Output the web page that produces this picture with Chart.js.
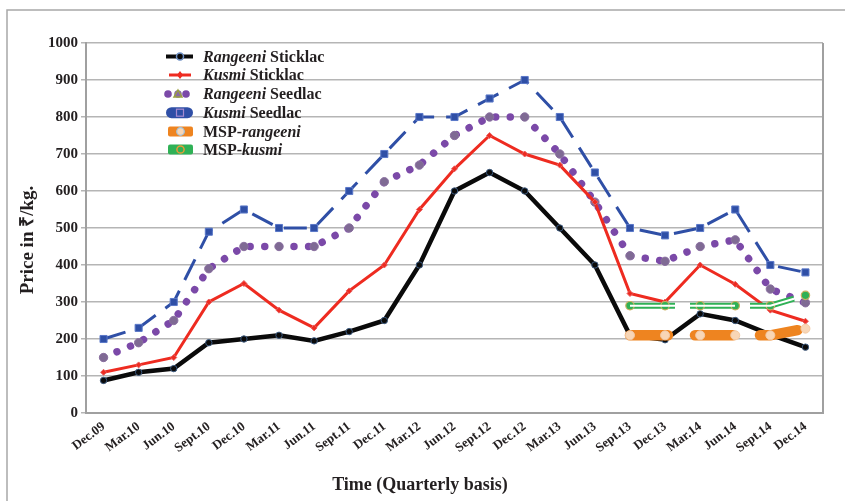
<!DOCTYPE html>
<html>
<head>
<meta charset="utf-8">
<script src="https://cdn.jsdelivr.net/npm/chart.js@4"></script>
<style>
  html, body { margin: 0; padding: 0; background: #fff; overflow: hidden; }
  #wrap { position: relative; width: 845px; height: 501px; }
</style>
</head>
<body>
<div id="wrap"><canvas id="c" width="845" height="501"></canvas></div>
<script>
// Quarterly lac prices (Rs/kg), Dec 2009 - Dec 2014
const categories = ['Dec.09','Mar.10','Jun.10','Sept.10','Dec.10','Mar.11','Jun.11','Sept.11','Dec.11','Mar.12','Jun.12',
                    'Sept.12','Dec.12','Mar.13','Jun.13','Sept.13','Dec.13','Mar.14','Jun.14','Sept.14','Dec.14'];
const rangeeniSticklac = [88,110,120,190,200,210,195,220,250,400,600,650,600,500,400,210,198,268,250,212,178];
const kusmiSticklac    = [110,130,150,300,350,278,230,330,400,550,660,750,700,670,570,323,300,400,348,278,248];
const rangeeniSeedlac  = [150,190,250,390,450,450,450,500,625,670,750,800,800,700,570,425,410,450,468,335,298];
const kusmiSeedlac     = [200,230,300,490,550,500,500,600,700,800,800,850,900,800,650,500,480,500,550,400,380];
const mspRangeeni      = [null,null,null,null,null,null,null,null,null,null,null,null,null,null,null,210,210,210,210,210,228];
const mspKusmi         = [null,null,null,null,null,null,null,null,null,null,null,null,null,null,null,290,290,290,290,290,318];

const yTitle = 'Price in \u20B9/kg.';
const xTitle = 'Time (Quarterly basis)';
const legendRows = [
  [['Rangeeni', true], [' Sticklac', false]],
  [['Kusmi', true], [' Sticklac', false]],
  [['Rangeeni', true], [' Seedlac', false]],
  [['Kusmi', true], [' Seedlac', false]],
  [['MSP-', false], ['rangeeni', true]],
  [['MSP-', false], ['kusmi', true]]
];

const SERIF = '"Liberation Serif", "Times New Roman", serif';
const TXT = '#231f20';
const C = {
  black: '#0a0a0a', red: '#ee2b20', purple: '#7b49a8', blue: '#2f4fa6',
  orange: '#ee8420', peach: '#f8d6b6', green: '#2fb156'
};

// frame, plot box, axis titles and the legend block
const decorPlugin = {
  id: 'decor',
  beforeDatasetsDraw(chart) {
    const { ctx, chartArea: a } = chart;
    ctx.save();
    ctx.strokeStyle = '#a0a0a0';
    ctx.lineWidth = 2;
    ctx.beginPath();
    ctx.moveTo(a.right, a.top);
    ctx.lineTo(a.right, a.bottom);
    ctx.stroke();
    ctx.restore();
  },
  afterDraw(chart) {
    const { ctx } = chart;
    ctx.save();
    // outer frame
    ctx.strokeStyle = '#a8a8a8';
    ctx.lineWidth = 1.5;
    ctx.beginPath();
    ctx.moveTo(7, 501);
    ctx.lineTo(7, 10);
    ctx.lineTo(845, 10);
    ctx.stroke();

    // axis titles
    ctx.fillStyle = TXT;
    ctx.textBaseline = 'middle';
    ctx.textAlign = 'center';
    ctx.font = 'bold 18px ' + SERIF;
    ctx.fillText(xTitle, 420, 485);
    ctx.save();
    ctx.translate(28, 240);
    ctx.rotate(-Math.PI / 2);
    ctx.font = 'bold 19px ' + SERIF;
    ctx.fillText(yTitle, 0, 0);
    ctx.restore();

    // legend
    const rowY = [56.5, 75, 94, 112.7, 131.5, 149.5];
    rowY.forEach((y, i) => {
      drawSample(ctx, i, y);
      let x = 203;
      ctx.textAlign = 'left';
      legendRows[i].forEach(([t, it]) => {
        ctx.font = (it ? 'italic bold 16px ' : 'bold 16px ') + SERIF;
        ctx.fillText(t, x, y + 1);
        x += ctx.measureText(t).width;
      });
    });
    ctx.restore();
  }
};

function roundBar(ctx, x0, x1, y, h, r, color) {
  ctx.fillStyle = color;
  ctx.beginPath();
  ctx.roundRect(x0, y - h / 2, x1 - x0, h, r);
  ctx.fill();
}

function drawSample(ctx, i, y) {
  ctx.save();
  if (i === 0) {
    ctx.strokeStyle = C.black; ctx.lineWidth = 4;
    ctx.beginPath(); ctx.moveTo(166, y); ctx.lineTo(193, y); ctx.stroke();
    ctx.fillStyle = C.black; ctx.strokeStyle = '#6d8fc4'; ctx.lineWidth = 1.5;
    ctx.beginPath(); ctx.arc(180, y, 3.5, 0, Math.PI * 2); ctx.fill(); ctx.stroke();
  } else if (i === 1) {
    ctx.strokeStyle = C.red; ctx.lineWidth = 3;
    ctx.beginPath(); ctx.moveTo(169, y); ctx.lineTo(191, y); ctx.stroke();
    ctx.fillStyle = C.red;
    ctx.beginPath(); ctx.moveTo(180, y - 4); ctx.lineTo(183, y); ctx.lineTo(180, y + 4); ctx.lineTo(177, y); ctx.fill();
  } else if (i === 2) {
    ctx.fillStyle = C.purple;
    [168, 186].forEach(cx => { ctx.beginPath(); ctx.arc(cx, y, 3.8, 0, Math.PI * 2); ctx.fill(); });
    ctx.fillStyle = '#8a6aa8';
    ctx.beginPath(); ctx.arc(178, y, 3.8, 0, Math.PI * 2); ctx.fill();
    ctx.strokeStyle = '#9aa040'; ctx.lineWidth = 1.5;
    ctx.beginPath(); ctx.moveTo(178, y - 4); ctx.lineTo(182, y + 3); ctx.lineTo(174, y + 3); ctx.closePath(); ctx.stroke();
  } else if (i === 3) {
    roundBar(ctx, 166, 193, y, 11, 5.5, C.blue);
    ctx.strokeStyle = '#a58ad0'; ctx.lineWidth = 1.2;
    ctx.strokeRect(176.5, y - 3.5, 7, 7);
  } else if (i === 4) {
    roundBar(ctx, 168, 193, y, 10, 2, C.orange);
    ctx.fillStyle = C.peach; ctx.strokeStyle = '#9ec4e0'; ctx.lineWidth = 1.2;
    ctx.beginPath(); ctx.arc(180.5, y, 3.8, 0, Math.PI * 2); ctx.fill(); ctx.stroke();
  } else {
    roundBar(ctx, 168, 193, y, 10, 2, C.green);
    ctx.strokeStyle = '#e89a3a'; ctx.lineWidth = 1.5;
    ctx.beginPath(); ctx.arc(180.5, y, 3.6, 0, Math.PI * 2); ctx.stroke();
  }
  ctx.restore();
}

const ds = [
  {
    label: 'Rangeeni Sticklac', data: rangeeniSticklac, order: 3,
    borderColor: C.black, borderWidth: 4.5, tension: 0,
    pointRadius: 3.2, pointBackgroundColor: C.black, pointBorderColor: '#3c5a80', pointBorderWidth: 1
  },
  {
    label: 'Kusmi Sticklac', data: kusmiSticklac, order: 4,
    borderColor: C.red, borderWidth: 3,
    pointStyle: 'rectRot', pointRadius: 3, pointBackgroundColor: C.red, pointBorderColor: '#e86060', pointBorderWidth: 1
  },
  {
    label: 'Rangeeni Seedlac', data: rangeeniSeedlac, order: 5,
    borderColor: C.purple, borderWidth: 7.5, borderDash: [0.01, 14.6], borderCapStyle: 'round',
    pointRadius: 4.2, pointBackgroundColor: '#7f6a94', pointBorderColor: '#8a70a0', pointBorderWidth: 1
  },
  {
    label: 'Kusmi Seedlac', data: kusmiSeedlac, order: 6,
    borderColor: C.blue, borderWidth: 3, borderDash: [23, 12],
    pointStyle: 'rect', pointRadius: 5, pointBackgroundColor: C.blue, pointBorderColor: '#5a78c8', pointBorderWidth: 1
  },
  {
    label: 'MSP-rangeeni', data: mspRangeeni, order: 2,
    borderColor: C.orange, borderWidth: 10.5, borderDash: [38, 27], borderCapStyle: 'round',
    pointRadius: 4.5, pointBackgroundColor: C.peach, pointBorderColor: '#f2c9a4', pointBorderWidth: 1
  },
  {
    label: 'MSP-kusmi', data: mspKusmi, order: 1,
    borderColor: C.green, borderWidth: 6, borderDash: [45, 15],
    pointRadius: 4.2, pointBackgroundColor: C.green, pointBorderColor: '#c8b060', pointBorderWidth: 1.2
  },
  {
    // white core that turns the MSP-kusmi stroke into a double line
    label: 'MSP-kusmi core', data: mspKusmi, order: 0,
    borderColor: '#ffffff', borderWidth: 2, borderDash: [45, 15],
    pointRadius: 0
  }
];

new Chart(document.getElementById('c'), {
  type: 'line',
  data: { labels: categories, datasets: ds },
  options: {
    responsive: false,
    animation: false,
    devicePixelRatio: 1,
    layout: { padding: { top: 43, right: 22, left: 0, bottom: 0 } },
    plugins: { legend: { display: false }, tooltip: { enabled: false } },
    elements: { line: { tension: 0, fill: false } },
    scales: {
      x: {
        offset: true,
        grid: { display: false, drawTicks: false },
        border: { color: '#a0a0a0', width: 2 },
        ticks: {
          autoSkip: false, minRotation: 37, maxRotation: 37, padding: 6, color: TXT,
          font: { family: SERIF, weight: 'bold', size: 13 }
        },
        afterFit(s) { s.height = 88; }
      },
      y: {
        min: 0, max: 1000,
        ticks: {
          stepSize: 100, padding: 3, color: TXT,
          font: { family: SERIF, weight: 'bold', size: 15 },
          callback: v => String(v)
        },
        grid: { color: '#b5b5b5', lineWidth: 1.5, tickLength: 5, drawTicks: true },
        border: { color: '#a0a0a0', width: 2 },
        afterFit(s) { s.width = 86; }
      }
    }
  },
  plugins: [decorPlugin]
});
</script>
</body>
</html>
